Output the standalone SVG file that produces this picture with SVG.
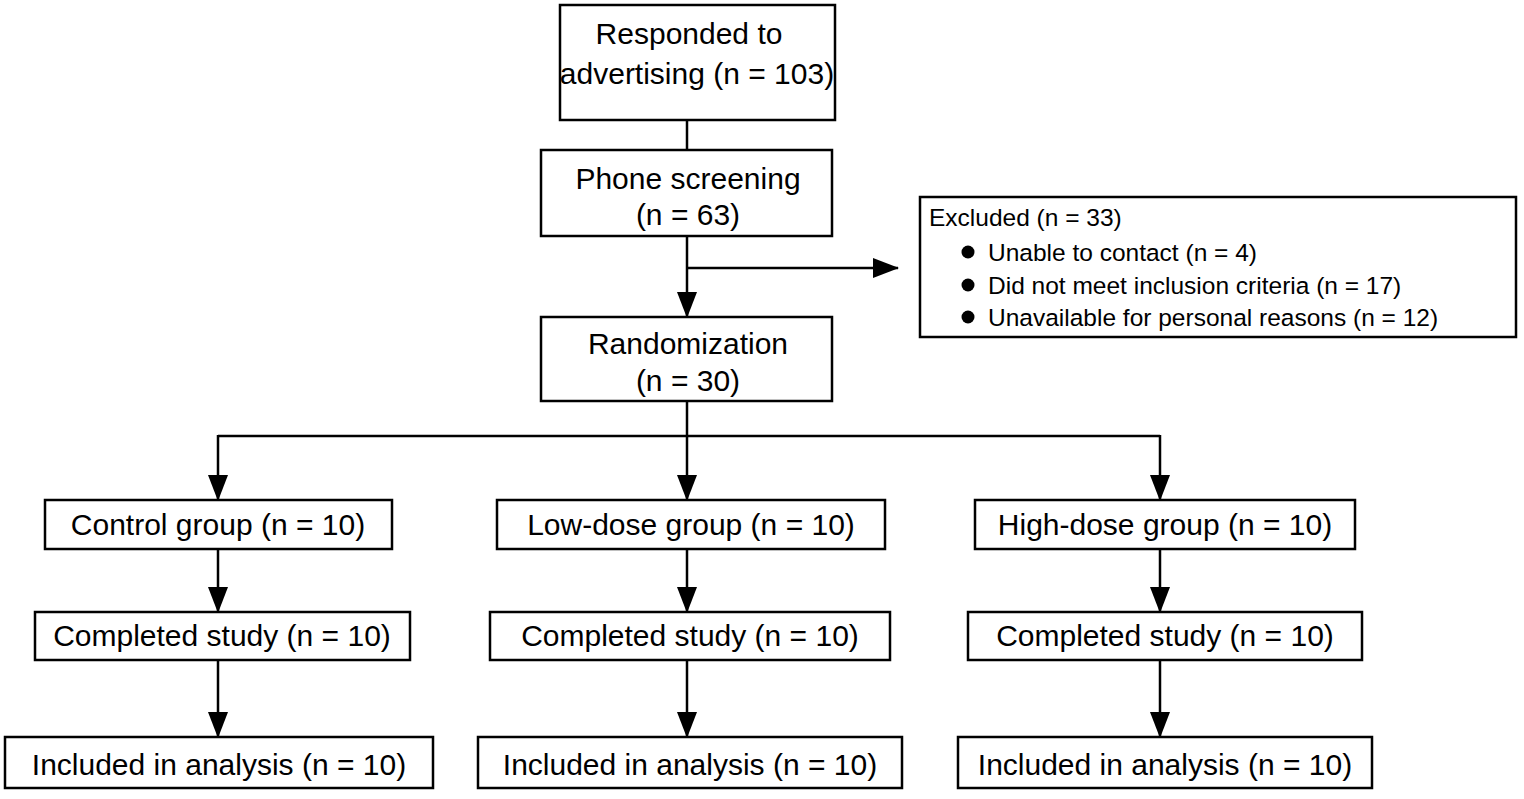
<svg xmlns="http://www.w3.org/2000/svg" width="1524" height="799" viewBox="0 0 1524 799">
<defs><style>rect{fill:#fff;stroke:#000;stroke-width:2.5}text{font-family:"Liberation Sans",Arial,sans-serif;font-size:30px;fill:#000}.c{text-anchor:middle}.s{font-size:24.5px}line{stroke:#000;stroke-width:2.5}</style>
<marker id="b" markerWidth="26" markerHeight="20" refX="25" refY="10" orient="auto" markerUnits="userSpaceOnUse"><path d="M0,0 L26,10 L0,20 z" fill="#000"/></marker></defs>
<rect width="1524" height="799" style="fill:#fff;stroke:none"/>
<g id="connectors">
<line x1="687" y1="120" x2="687" y2="150"/>
<line x1="687" y1="236" x2="687" y2="317" marker-end="url(#b)"/>
<line x1="687" y1="268" x2="898" y2="268" marker-end="url(#b)"/>
<line x1="687" y1="401" x2="687" y2="436"/>
<line x1="218" y1="436" x2="1160" y2="436"/>
<line x1="218" y1="435" x2="218" y2="500" marker-end="url(#b)"/>
<line x1="687" y1="436" x2="687" y2="500" marker-end="url(#b)"/>
<line x1="1160" y1="435" x2="1160" y2="500" marker-end="url(#b)"/>
<line x1="218" y1="549" x2="218" y2="612" marker-end="url(#b)"/>
<line x1="687" y1="549" x2="687" y2="612" marker-end="url(#b)"/>
<line x1="1160" y1="549" x2="1160" y2="612" marker-end="url(#b)"/>
<line x1="218" y1="660" x2="218" y2="737" marker-end="url(#b)"/>
<line x1="687" y1="660" x2="687" y2="737" marker-end="url(#b)"/>
<line x1="1160" y1="660" x2="1160" y2="737" marker-end="url(#b)"/>
</g>
<g id="n1"><rect x="560" y="5" width="275" height="115"/><text class="c" x="689" y="44">Responded to</text><text class="c" x="697" y="84">advertising (n = 103)</text></g>
<g id="n2"><rect x="541" y="150" width="291" height="86"/><text class="c" x="688" y="189">Phone screening</text><text class="c" x="688" y="225">(n = 63)</text></g>
<g id="n3"><rect x="920" y="197" width="596" height="140"/><text class="s" x="929" y="226">Excluded (n = 33)</text>
<circle cx="968" cy="252" r="6.5"/><text class="s" x="988" y="261">Unable to contact (n = 4)</text>
<circle cx="968" cy="285" r="6.5"/><text class="s" x="988" y="294">Did not meet inclusion criteria (n = 17)</text>
<circle cx="968" cy="317" r="6.5"/><text class="s" x="988" y="326">Unavailable for personal reasons (n = 12)</text></g>
<g id="n4"><rect x="541" y="317" width="291" height="84"/><text class="c" x="688" y="354">Randomization</text><text class="c" x="688" y="391">(n = 30)</text></g>
<g id="g1"><rect x="45" y="500" width="347" height="49"/><text class="c" x="218" y="535">Control group (n = 10)</text></g>
<g id="g2"><rect x="497" y="500" width="388" height="49"/><text class="c" x="691" y="535">Low-dose group (n = 10)</text></g>
<g id="g3"><rect x="975" y="500" width="380" height="49"/><text class="c" x="1165" y="535">High-dose group (n = 10)</text></g>
<g id="c1"><rect x="35" y="612" width="375" height="48"/><text class="c" x="222" y="646">Completed study (n = 10)</text></g>
<g id="c2"><rect x="490" y="612" width="400" height="48"/><text class="c" x="690" y="646">Completed study (n = 10)</text></g>
<g id="c3"><rect x="968" y="612" width="394" height="48"/><text class="c" x="1165" y="646">Completed study (n = 10)</text></g>
<g id="i1"><rect x="5" y="737" width="428" height="51"/><text class="c" x="219" y="775">Included in analysis (n = 10)</text></g>
<g id="i2"><rect x="478" y="737" width="424" height="51"/><text class="c" x="690" y="775">Included in analysis (n = 10)</text></g>
<g id="i3"><rect x="958" y="737" width="414" height="51"/><text class="c" x="1165" y="775">Included in analysis (n = 10)</text></g>
</svg>
